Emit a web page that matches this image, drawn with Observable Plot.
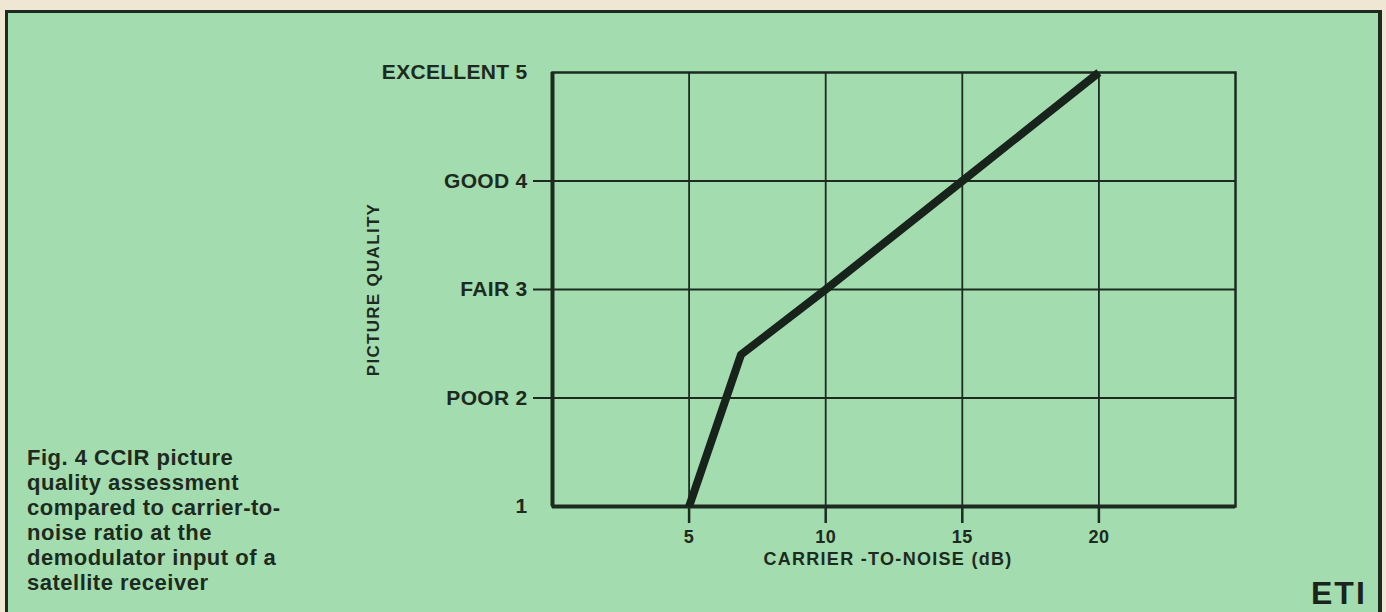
<!DOCTYPE html>
<html>
<head>
<meta charset="utf-8">
<script src="https://cdn.jsdelivr.net/npm/d3@7"></script>
<script src="https://cdn.jsdelivr.net/npm/@observablehq/plot@0.6"></script>
<style>
  html, body { margin: 0; padding: 0; }
  body { width: 1386px; height: 612px; background: #efe7d3; position: relative; overflow: hidden;
         font-family: "Liberation Sans", Arial, Helvetica, sans-serif; }
  #panel { position: absolute; left: 5px; top: 10px; width: 1370px; height: 610px;
           background: #a3dcae; border-left: 3px solid #1d2a20; border-top: 3px solid #1d2a20; border-right: 4px solid #1d2a20; }
  #chart { position: absolute; left: 0; top: 0; }
  #caption { position: absolute; left: 27px; top: 445px; font-weight: bold; font-size: 22px; line-height: 25px; letter-spacing: 0.5px; color: #1d2a20; }
  #eti { position: absolute; left: 1311px; top: 577px; font-weight: bold; font-size: 32px; line-height: 32px; color: #1a241c; letter-spacing: 2px; }
  g[aria-label="y-axis tick label"] { letter-spacing: 0.3px; }
  g[aria-label="x-axis tick label"] { letter-spacing: 0.5px; }
  g[aria-description="y-title"], g[aria-description="x-title"] { letter-spacing: 1.3px; }
</style>
</head>
<body>
<div id="panel"></div>
<div id="chart"></div>
<div id="caption"></div>
<div id="eti"></div>
<script>
// ---- data ----
const carrierToNoise = [5, 6.9, 10, 15, 20];        // dB
const pictureQuality = [1, 2.4, 3, 4, 5];           // CCIR grade
const qualityTicks = [1, 2, 3, 4, 5];
const qualityTickLabels = ["1", "POOR 2", "FAIR 3", "GOOD 4", "EXCELLENT 5"];
const qualityTickMarks = [2, 3, 4];
const snrTicks = [5, 10, 15, 20];
const xTitle = "CARRIER -TO-NOISE (dB)";
const yTitle = "PICTURE QUALITY";
const captionLines = [
  "Fig. 4 CCIR picture",
  "quality assessment",
  "compared to carrier-to-",
  "noise ratio at the",
  "demodulator input of a",
  "satellite receiver"
];
const badge = "ETI";

const ink = "#1d2a20";
const points = carrierToNoise.map((x, i) => ({x, y: pictureQuality[i]}));

const chart = Plot.plot({
  width: 1386,
  height: 612,
  marginLeft: 552,
  marginRight: 151,
  marginTop: 72,
  marginBottom: 106,
  style: {background: "transparent", color: ink, fontFamily: "'Liberation Sans', Arial, sans-serif"},
  x: {domain: [0, 25]},
  y: {domain: [1, 5]},
  marks: [
    Plot.gridX(snrTicks, {stroke: ink, strokeOpacity: 1, strokeWidth: 1.8}),
    Plot.gridY(qualityTickMarks, {stroke: ink, strokeOpacity: 1, strokeWidth: 1.8}),
    Plot.frame({stroke: ink, strokeWidth: 2.5}),
    Plot.ruleX([0], {stroke: ink, strokeWidth: 4}),
    Plot.ruleY([1], {stroke: ink, strokeWidth: 4}),
    Plot.axisY(qualityTicks, {
      tickSize: 0, tickPadding: 25,
      tickFormat: d => qualityTickLabels[qualityTicks.indexOf(d)],
      fontSize: 21, fontWeight: "bold", label: null
    }),
    Plot.axisY(qualityTickMarks, {tickSize: 19, strokeWidth: 2, tickFormat: () => "", label: null}),
    Plot.axisX(snrTicks, {
      tickSize: 17, tickPadding: 7, strokeWidth: 2.5,
      fontSize: 18, fontWeight: "bold", label: null
    }),
    Plot.text([yTitle], {frameAnchor: "left", rotate: -90, dx: -179, text: d => d,
      textAnchor: "middle", lineAnchor: "middle", ariaDescription: "y-title",
      fontSize: 17, fontWeight: "bold", fill: ink}),
    Plot.text([xTitle], {frameAnchor: "bottom", dx: -6, dy: 53, text: d => d,
      textAnchor: "middle", lineAnchor: "middle", ariaDescription: "x-title",
      fontSize: 18, fontWeight: "bold", fill: ink}),
    Plot.line(points, {x: "x", y: "y", stroke: "#17231b", strokeWidth: 8, strokeLinejoin: "round", strokeLinecap: "butt"})
  ]
});
document.getElementById("chart").append(chart);
document.getElementById("caption").innerHTML = captionLines.join("<br>");
document.getElementById("eti").textContent = badge;
</script>
</body>
</html>
